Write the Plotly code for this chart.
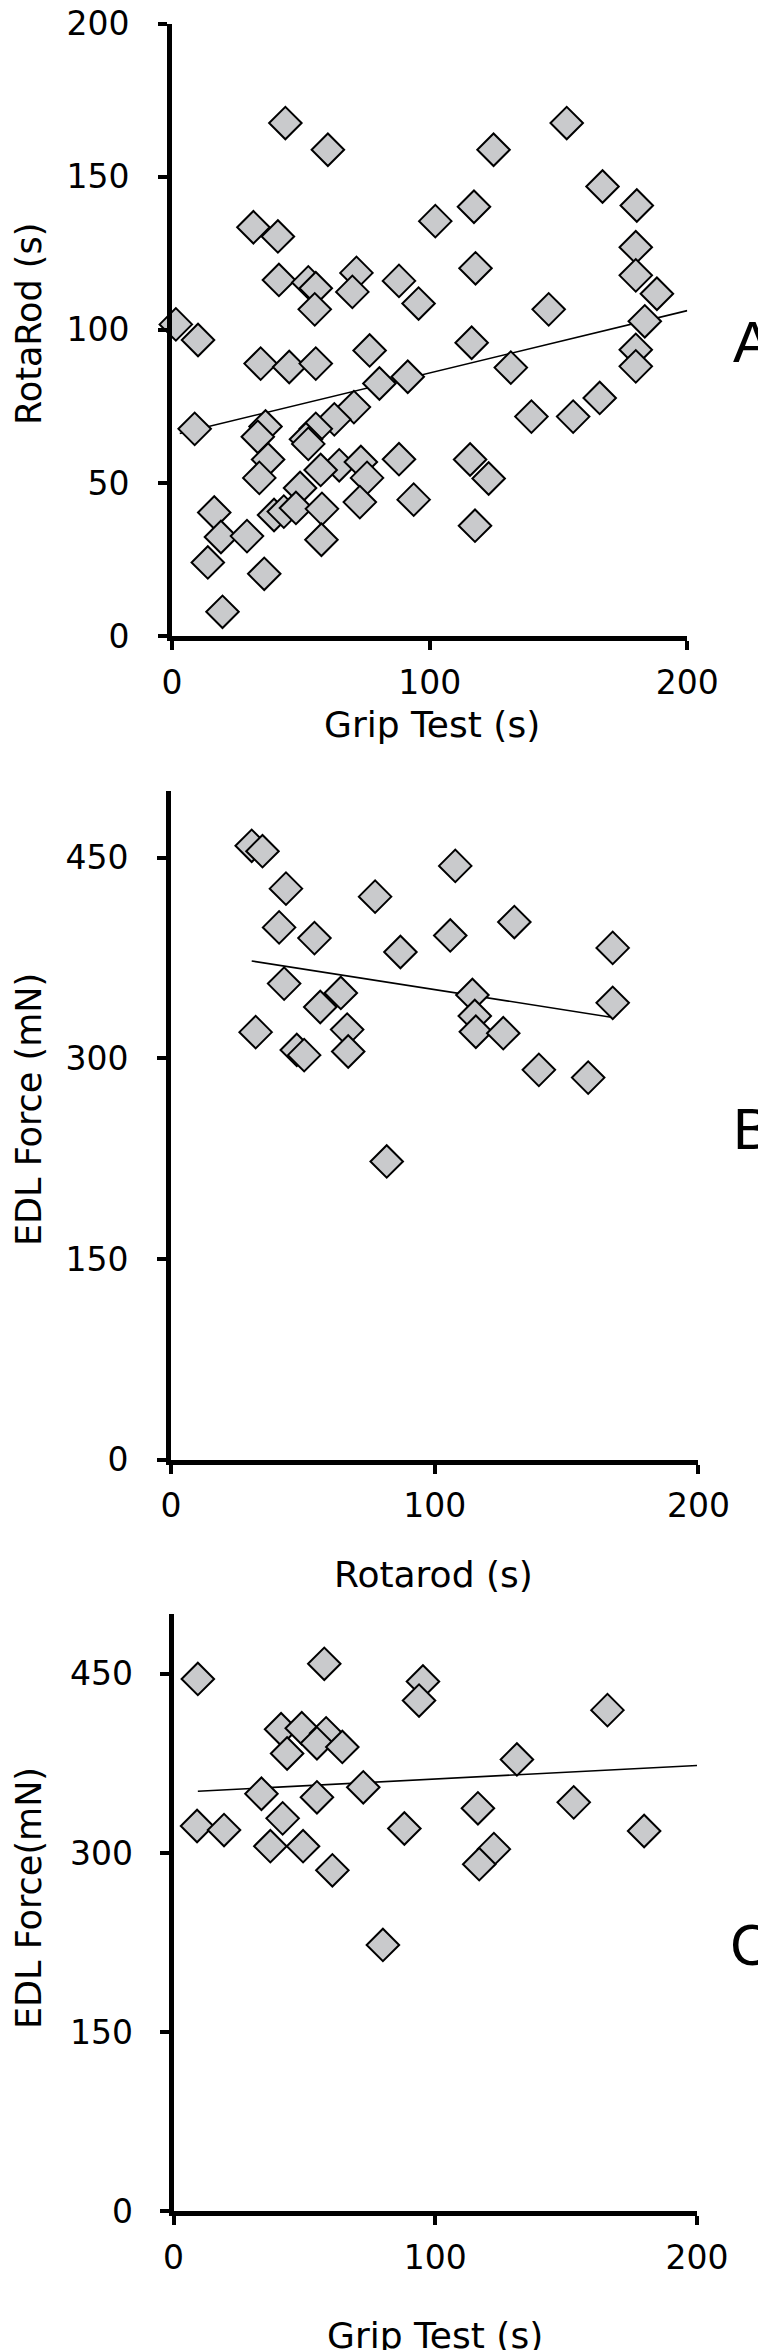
import plotly.graph_objects as go

# ---------------- data ----------------
# Panel A: Grip Test (s) vs RotaRod (s)
a_grip = [44, 60.5, 153.2, 124.8, 167.1, 180.4, 117.2, 102.2, 31.6, 41.1,
          180, 117.8, 41.5, 52.9, 55.8, 71.6, 70, 88.1, 180, 188.2,
          55.4, 95.7, 146.2, 183.5, 1.5, 10.1, 116.3, 180, 180, 76.7,
          34.4, 45.5, 55.8, 131.5, 91.5, 80.5, 70.6, 166, 139.5, 155.7,
          8.8, 63, 36.3, 55.8, 33.3, 52, 52.9, 37.3, 64.9, 57.7,
          73.3, 75.7, 88.1, 115.7, 122.9, 33.9, 49.7, 93.8, 72.9, 39.6,
          43.4, 48.1, 58.2, 16.4, 19, 29.1, 58, 117.6, 13.9, 35.8, 19.6]
a_rota = [167.5, 158.8, 167.5, 158.8, 146.8, 140.6, 140.2, 135.5, 133.5, 130.5,
          127, 120.1, 116.3, 115.5, 113.6, 118.6, 112.4, 116, 117.8, 111.8,
          106.7, 108.6, 106.7, 102.8, 101.8, 96.7, 95.8, 93.5, 88.1, 93.3,
          89, 87.9, 89, 87.7, 84.7, 82.5, 74.8, 77.8, 71.7, 71.7,
          67.7, 70.8, 68.5, 67.7, 65.1, 64.3, 62.8, 57.7, 55.8, 54.3,
          56.9, 51.7, 57.8, 57.7, 51.5, 51.7, 48.4, 44.6, 43.8, 39.6,
          40.7, 41.9, 41.6, 40.4, 32.4, 32.7, 31.5, 36.1, 24.1, 20.4, 8]
a_fit_x = [3, 200]
a_fit_y = [66.2, 106.3]

# Panel B: Rotarod (s) vs EDL Force (mN)
b_rota = [30.6, 34.7, 107.8, 43.6, 77.4, 41, 130.2, 54.4, 105.9, 87,
          167.5, 42.9, 64.4, 56.6, 114.3, 167.5, 115.2, 115.6, 32.1, 66.8,
          126, 47.7, 50.5, 67.2, 139.5, 158.2, 81.8]
b_edl = [459, 455, 444, 427, 421, 398, 402, 390, 392, 379.6,
         382.7, 356, 349, 338.5, 347.5, 341.6, 331.8, 320, 319.7, 321.6,
         318.9, 306.4, 302.5, 305.2, 291.5, 285.7, 223]
b_fit_x = [30.6, 167.5]
b_fit_y = [372.9, 330.7]

# Panel C: Grip Test (s) vs EDL Force (mN)
c_grip = [9.3, 57.6, 95.3, 93.8, 165.8, 41.1, 49, 58.3, 54.8, 64.5,
          43.4, 131.2, 72.5, 33.6, 54.8, 116.3, 152.9, 41.7, 9, 19.3,
          88.2, 179.8, 37, 49.5, 122.4, 116.8, 60.7, 80]
c_edl = [445.7, 458.4, 443.6, 427.6, 419.6, 403.6, 404.4, 400.2, 391.8, 388.8,
         383.3, 378.3, 355, 349.6, 346.6, 337.4, 342.4, 329, 322.6, 319.2,
         320.5, 318.4, 305.7, 305.7, 303.2, 290.6, 285.5, 223]
c_fit_x = [9.3, 200]
c_fit_y = [351.7, 373.2]

x_ticks = [0, 100, 200]
a_y_ticks = [0, 50, 100, 150, 200]
edl_ticks = [0, 150, 300, 450]

# ---------------- layout geometry ----------------
W, H = 766, 2350


def xdom(a, b):
    return [a / W, b / W]


def ydom(top, bottom):
    return [1 - bottom / H, 1 - top / H]


FONT = "DejaVu Sans, Liberation Sans, Arial, sans-serif"
LETTER_FONT = "Liberation Sans, Arial, sans-serif"
MK = dict(symbol="diamond", size=25, color="#c9cacc",
          line=dict(color="black", width=2))

fig = go.Figure()

panels = [
    (a_grip, a_rota, a_fit_x, a_fit_y, "x", "y"),
    (b_rota, b_edl, b_fit_x, b_fit_y, "x2", "y2"),
    (c_grip, c_edl, c_fit_x, c_fit_y, "x3", "y3"),
]
for xs, ys, fx, fy, xa, ya in panels:
    fig.add_trace(go.Scatter(x=fx, y=fy, mode="lines", xaxis=xa, yaxis=ya,
                             line=dict(color="black", width=1.6),
                             showlegend=False, hoverinfo="skip"))
    fig.add_trace(go.Scatter(x=xs, y=ys, mode="markers", xaxis=xa, yaxis=ya,
                             marker=MK, cliponaxis=False, showlegend=False))

ax_common = dict(showline=True, linecolor="black", linewidth=5,
                 ticks="outside", ticklen=9, tickwidth=4, tickcolor="black",
                 showgrid=False, zeroline=False, automargin=False,
                 ticklabeloverflow="allow",
                 tickfont=dict(family=FONT, size=33, color="black"))

fig.update_layout(
    width=W, height=H,
    margin=dict(l=0, r=0, t=0, b=0, pad=0, autoexpand=False),
    paper_bgcolor="white", plot_bgcolor="white",
    font=dict(family=FONT, color="black"),
    xaxis=dict(domain=xdom(164, 679.3), range=[0, 200], tickvals=x_ticks,
               anchor="y", ticklabelstandoff=4, **ax_common),
    yaxis=dict(domain=ydom(15.5, 628.3), range=[0, 200], tickvals=a_y_ticks,
               anchor="x", ticklabelstandoff=22, **ax_common),
    xaxis2=dict(domain=xdom(163, 690.4), range=[0, 200], tickvals=x_ticks,
                anchor="y2", ticklabelstandoff=4, **ax_common),
    yaxis2=dict(domain=ydom(783, 1451.7), range=[0, 500], tickvals=edl_ticks,
                anchor="x2", ticklabelstandoff=22, **ax_common),
    xaxis3=dict(domain=xdom(165.5, 689), range=[0, 200], tickvals=x_ticks,
                anchor="y3", ticklabelstandoff=4, **ax_common),
    yaxis3=dict(domain=ydom(1606.1, 2203.3), range=[0, 500], tickvals=edl_ticks,
                anchor="x3", ticklabelstandoff=20, **ax_common),
)


def ann(text, px, py, size, angle=0, family=FONT):
    fig.add_annotation(text=text, x=px / W, y=1 - py / H,
                       xref="paper", yref="paper", showarrow=False,
                       xanchor="center", yanchor="middle", textangle=angle,
                       font=dict(family=family, size=size, color="black"))


# axis titles
ann("Grip Test (s)", 424, 716, 36)
ann("RotaRod (s)", 21, 316, 35, -90)
ann("Rotarod (s)", 425, 1566, 36)
ann("EDL Force (mN)", 21, 1102, 35, -90)
ann("Grip Test (s)", 427, 2327, 36)
ann("EDL Force(mN)", 21, 1890, 35, -90)
# panel letters
ann("A", 744, 334, 58, family=LETTER_FONT)
ann("B", 744, 1120, 58, family=LETTER_FONT)
ann("C", 743, 1936, 58, family=LETTER_FONT)

fig.write_html("out.html")
